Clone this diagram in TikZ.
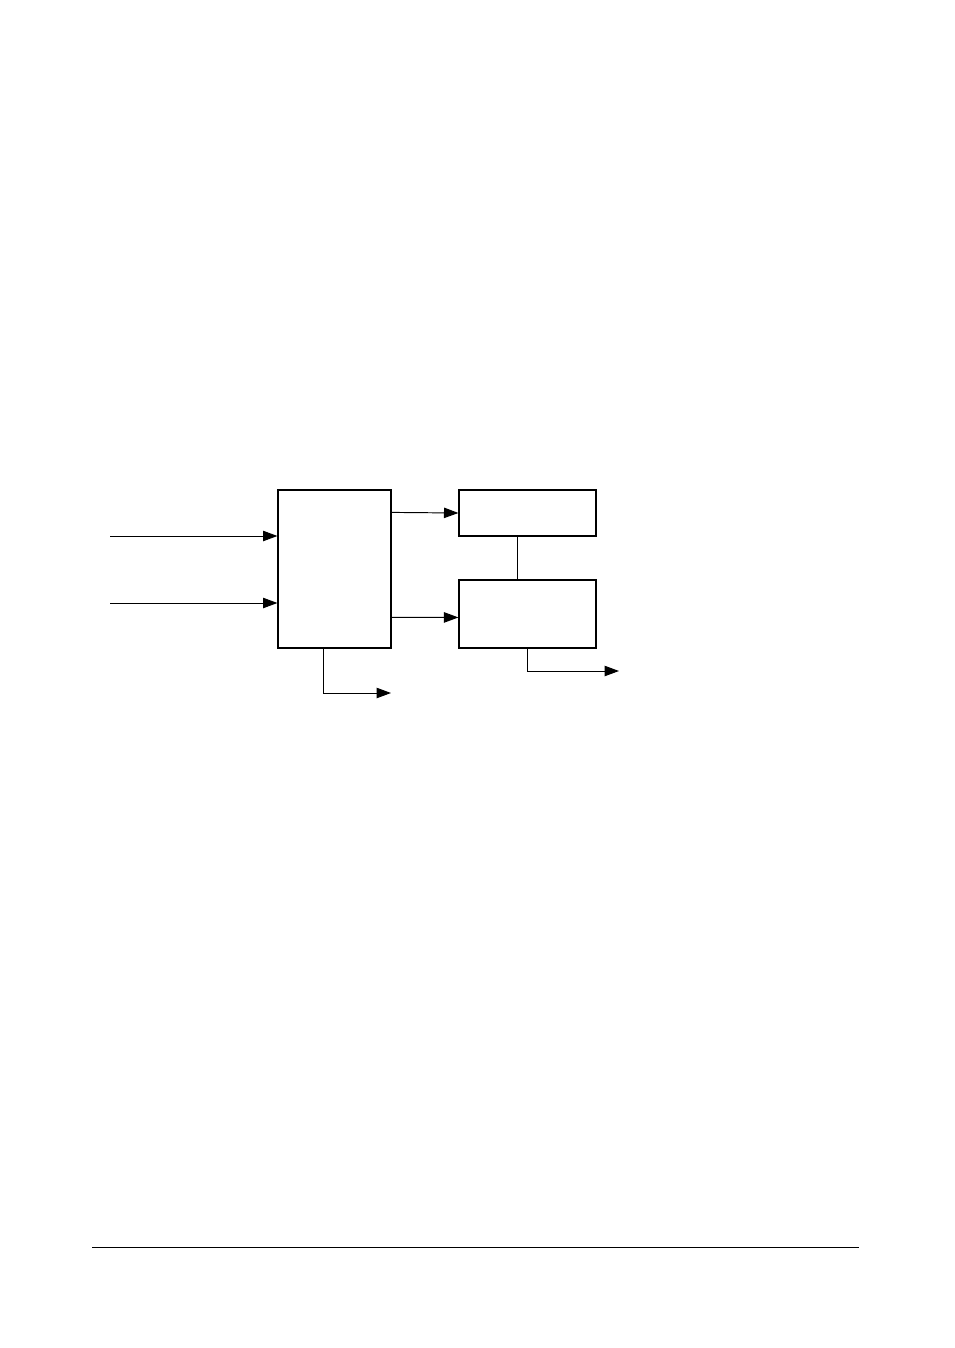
\documentclass[tikz,border=0pt]{standalone}
\usetikzlibrary{calc, positioning, arrows.meta}

\begin{document}
\begin{tikzpicture}[x=0.6238pt, y=-0.6238pt, >={Triangle[length=9pt, width=6.5pt]}, line width=0.6pt]
\tikzstyle{block}=[draw, rectangle, inner sep=0, line width=0.7pt]
\tikzstyle{flow}=[->]

\useasboundingbox (0,0) rectangle (954,1348);

% blocks
\node[block, minimum width=70.5pt, minimum height=98.6pt] (main) at (334.5,569) {};
\node[block, minimum width=85.5pt, minimum height=28.7pt] (upper) at (527.5,513) {};
\node[block, minimum width=85.5pt, minimum height=42.4pt] (lower) at (527.5,614) {};

% free ends
\coordinate (in1) at (110,536);
\coordinate (in2) at (110,603);
\coordinate (out1) at (391,693);
\coordinate (out2) at (619,671);

% inputs
\draw[flow] (in1) -- (main.west |- in1);
\draw[flow] (in2) -- (main.west |- in2);

% main to blocks
\draw[flow] ($(main.north east)+(0,23)$) -- (upper.west);
\draw[flow] ($(main.north east)+(0,128)$) -- ($(lower.north west)+(0,38)$);
\draw ($(upper.south west)+(59,0)$) -- ($(lower.north west)+(59,0)$);

% outputs
\draw[flow] ($(main.south west)+(46,0)$) |- (out1);
\draw[flow] ($(lower.south west)+(69,0)$) |- (out2);

% page rule
\draw (92,1247) -- (859,1247);
\end{tikzpicture}
\end{document}
